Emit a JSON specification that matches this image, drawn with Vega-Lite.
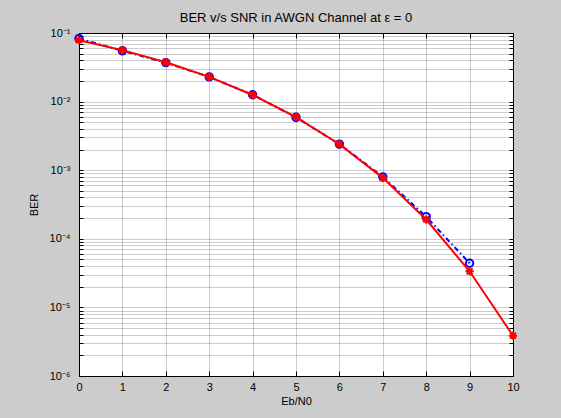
{
  "$schema": "https://vega.github.io/schema/vega-lite/v6.json",
  "width": 434,
  "height": 343,
  "autosize": {"type": "none"},
  "padding": {"left": 79, "top": 33, "right": 48, "bottom": 42},
  "background": "#cccccc",
  "view": {"fill": "white", "stroke": "black", "strokeWidth": 1},
  "title": {"text": "BER v/s SNR in AWGN Channel at ε = 0", "font": "Liberation Sans", "fontSize": 13, "fontWeight": "normal", "color": "black", "offset": 2, "anchor": "middle"},
  "config": {
    "axis": {
      "labelFont": "Liberation Sans", "titleFont": "Liberation Sans",
      "labelColor": "black", "titleColor": "black", "titleFontWeight": "normal",
      "labelFontSize": 11, "titleFontSize": 11,
      "domainColor": "black", "domainWidth": 1,
      "tickColor": "black", "tickWidth": 1,
      "gridColor": "#000000", "gridOpacity": 0.4, "gridDash": [1, 1]
    }
  },
  "data": {"values": [
    {"series": "sim", "snr": 0, "ber": 0.083},
    {"series": "sim", "snr": 1, "ber": 0.055},
    {"series": "sim", "snr": 2, "ber": 0.037},
    {"series": "sim", "snr": 3, "ber": 0.0229},
    {"series": "sim", "snr": 4, "ber": 0.0126},
    {"series": "sim", "snr": 5, "ber": 0.0059},
    {"series": "sim", "snr": 6, "ber": 0.0024},
    {"series": "sim", "snr": 7, "ber": 0.0008},
    {"series": "sim", "snr": 8, "ber": 0.00021},
    {"series": "sim", "snr": 9, "ber": 0.000044},
    {"series": "theory", "snr": 0, "ber": 0.0786},
    {"series": "theory", "snr": 1, "ber": 0.0563},
    {"series": "theory", "snr": 2, "ber": 0.0375},
    {"series": "theory", "snr": 3, "ber": 0.0229},
    {"series": "theory", "snr": 4, "ber": 0.0125},
    {"series": "theory", "snr": 5, "ber": 0.00595},
    {"series": "theory", "snr": 6, "ber": 0.00239},
    {"series": "theory", "snr": 7, "ber": 0.000773},
    {"series": "theory", "snr": 8, "ber": 0.000191},
    {"series": "theory", "snr": 9, "ber": 0.0000336},
    {"series": "theory", "snr": 10, "ber": 0.00000387}
  ]},
  "layer": [
    {
      "transform": [{"filter": "datum.series == 'sim'"}],
      "mark": {"type": "line", "color": "#0000ff", "strokeWidth": 2, "strokeDash": [5, 3, 1.5, 3]},
      "encoding": {
        "x": {"field": "snr", "type": "quantitative", "scale": {"domain": [0, 10], "nice": false, "zero": false},
              "axis": {"orient": "bottom", "values": [0,1,2,3,4,5,6,7,8,9,10], "grid": true, "tickSize": -5, "labelPadding": 10, "title": "Eb/N0", "titlePadding": 3, "labelFlush": false}},
        "y": {"field": "ber", "type": "quantitative", "scale": {"type": "log", "domain": [0.000001, 0.1], "nice": false},
              "axis": {"orient": "left", "grid": true, "tickSize": -4, "labelPadding": 13, "title": "BER", "titlePadding": 10, "labelFlush": false,
                "values": [0.000001,0.000002,0.000003,0.000004,0.000005,0.000006,0.000007,0.000008,0.000009,0.00001,0.00002,0.00003,0.00004,0.00005,0.00006,0.00007,0.00008,0.00009,0.0001,0.0002,0.0003,0.0004,0.0005,0.0006,0.0007,0.0008,0.0009,0.001,0.002,0.003,0.004,0.005,0.006,0.007,0.008,0.009,0.01,0.02,0.03,0.04,0.05,0.06,0.07,0.08,0.09,0.1],
                "labelExpr": "abs(log(datum.value)/LN10 - round(log(datum.value)/LN10)) < 0.000001 ? '10' + ['⁻¹','⁻²','⁻³','⁻⁴','⁻⁵','⁻⁶'][-round(log(datum.value)/LN10)-1] : ''"}}
      }
    },
    {
      "transform": [{"filter": "datum.series == 'sim'"}],
      "mark": {"type": "point", "shape": "circle", "filled": false, "color": "#0000ff", "strokeWidth": 2, "size": 55, "opacity": 1},
      "encoding": {
        "x": {"field": "snr", "type": "quantitative",
              "axis": {"orient": "top", "values": [0,1,2,3,4,5,6,7,8,9,10], "grid": false, "labels": false, "tickSize": -5, "title": null}},
        "y": {"field": "ber", "type": "quantitative",
              "axis": {"orient": "right", "grid": false, "labels": false, "tickSize": -4, "title": null,
                "values": [0.000001,0.000002,0.000003,0.000004,0.000005,0.000006,0.000007,0.000008,0.000009,0.00001,0.00002,0.00003,0.00004,0.00005,0.00006,0.00007,0.00008,0.00009,0.0001,0.0002,0.0003,0.0004,0.0005,0.0006,0.0007,0.0008,0.0009,0.001,0.002,0.003,0.004,0.005,0.006,0.007,0.008,0.009,0.01,0.02,0.03,0.04,0.05,0.06,0.07,0.08,0.09,0.1]}}
      }
    },
    {
      "transform": [{"filter": "datum.series == 'theory'"}],
      "mark": {"type": "line", "color": "#ff0000", "strokeWidth": 2},
      "encoding": {
        "x": {"field": "snr", "type": "quantitative", "axis": null},
        "y": {"field": "ber", "type": "quantitative", "axis": null}
      }
    },
    {
      "transform": [{"filter": "datum.series == 'theory'"}],
      "mark": {"type": "point", "shape": "M-1,0L1,0M0,-1L0,1M-0.707,-0.707L0.707,0.707M-0.707,0.707L0.707,-0.707", "filled": false, "color": "#ff0000", "strokeWidth": 2, "size": 70, "opacity": 1},
      "encoding": {
        "x": {"field": "snr", "type": "quantitative", "axis": null},
        "y": {"field": "ber", "type": "quantitative", "axis": null}
      }
    }
  ],
  "resolve": {"axis": {"x": "independent", "y": "independent"}}
}
